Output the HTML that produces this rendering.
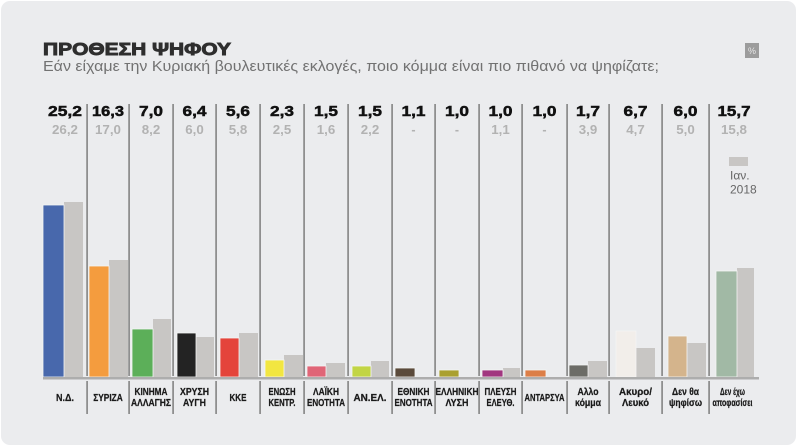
<!DOCTYPE html>
<html><head><meta charset="utf-8"><style>
html,body{margin:0;padding:0;background:#fff;}
svg{display:block;}
text{font-family:"Liberation Sans","DejaVu Sans",sans-serif;}
</style></head><body>
<svg width="800" height="448" viewBox="0 0 800 448" xmlns="http://www.w3.org/2000/svg">
<rect x="0" y="0" width="800" height="448" fill="#ffffff"/>
<rect x="1" y="1" width="795" height="444" rx="9" fill="#ebecee"/>

<text x="43" y="55" font-size="17.8" font-weight="bold" fill="#2e2e2e" stroke="#2e2e2e" stroke-width="0.9" textLength="188" lengthAdjust="spacingAndGlyphs">ΠΡΟΘΕΣΗ ΨΗΦΟΥ</text>
<text x="43" y="71" font-size="14.3" fill="#727272" textLength="616" lengthAdjust="spacingAndGlyphs">Εάν είχαμε την Κυριακή βουλευτικές εκλογές, ποιο κόμμα είναι πιο πιθανό να ψηφίζατε;</text>

<rect x="745" y="43" width="14" height="15" fill="#9c9c9c"/>
<text x="752" y="54" font-size="9" fill="#e6e6e6" text-anchor="middle">%</text>

<!-- dividers -->
<g fill="#8f8f8f">
<rect x="86.2" y="104" width="1.8" height="272"/><rect x="86.2" y="381" width="1.8" height="33"/>
<rect x="128.2" y="104" width="1.8" height="272"/><rect x="128.2" y="381" width="1.8" height="33"/>
<rect x="172.2" y="104" width="1.8" height="272"/><rect x="172.2" y="381" width="1.8" height="33"/>
<rect x="215.2" y="104" width="1.8" height="272"/><rect x="215.2" y="381" width="1.8" height="33"/>
<rect x="259.2" y="104" width="1.8" height="272"/><rect x="259.2" y="381" width="1.8" height="33"/>
<rect x="303.2" y="104" width="1.8" height="272"/><rect x="303.2" y="381" width="1.8" height="33"/>
<rect x="347.2" y="104" width="1.8" height="272"/><rect x="347.2" y="381" width="1.8" height="33"/>
<rect x="391.2" y="104" width="1.8" height="272"/><rect x="391.2" y="381" width="1.8" height="33"/>
<rect x="434.2" y="104" width="1.8" height="272"/><rect x="434.2" y="381" width="1.8" height="33"/>
<rect x="478.2" y="104" width="1.8" height="272"/><rect x="478.2" y="381" width="1.8" height="33"/>
<rect x="521.2" y="104" width="1.8" height="272"/><rect x="521.2" y="381" width="1.8" height="33"/>
<rect x="566.2" y="104" width="1.8" height="272"/><rect x="566.2" y="381" width="1.8" height="33"/>
<rect x="608.2" y="104" width="1.8" height="272"/><rect x="608.2" y="381" width="1.8" height="33"/>
<rect x="661.2" y="104" width="1.8" height="272"/><rect x="661.2" y="381" width="1.8" height="33"/>
<rect x="708.2" y="104" width="1.8" height="272"/><rect x="708.2" y="381" width="1.8" height="33"/>
</g>

<!-- header values -->
<g font-size="15" font-weight="bold" fill="#111" stroke="#111" stroke-width="0.5" text-anchor="middle">
<text x="65" y="116" textLength="34" lengthAdjust="spacingAndGlyphs">25,2</text>
<text x="108" y="116" textLength="32" lengthAdjust="spacingAndGlyphs">16,3</text>
<text x="151" y="116" textLength="24" lengthAdjust="spacingAndGlyphs">7,0</text>
<text x="194.5" y="116" textLength="24" lengthAdjust="spacingAndGlyphs">6,4</text>
<text x="238" y="116" textLength="24" lengthAdjust="spacingAndGlyphs">5,6</text>
<text x="282" y="116" textLength="24" lengthAdjust="spacingAndGlyphs">2,3</text>
<text x="326" y="116" textLength="24" lengthAdjust="spacingAndGlyphs">1,5</text>
<text x="370" y="116" textLength="24" lengthAdjust="spacingAndGlyphs">1,5</text>
<text x="413.5" y="116" textLength="24" lengthAdjust="spacingAndGlyphs">1,1</text>
<text x="457" y="116" textLength="24" lengthAdjust="spacingAndGlyphs">1,0</text>
<text x="500.5" y="116" textLength="24" lengthAdjust="spacingAndGlyphs">1,0</text>
<text x="544.5" y="116" textLength="24" lengthAdjust="spacingAndGlyphs">1,0</text>
<text x="588" y="116" textLength="24" lengthAdjust="spacingAndGlyphs">1,7</text>
<text x="635.5" y="116" textLength="24" lengthAdjust="spacingAndGlyphs">6,7</text>
<text x="685.5" y="116" textLength="24" lengthAdjust="spacingAndGlyphs">6,0</text>
<text x="734" y="116" textLength="33" lengthAdjust="spacingAndGlyphs">15,7</text>
</g>
<g font-size="12.5" font-weight="bold" fill="#b2b2b2" text-anchor="middle">
<text x="65" y="134" textLength="26" lengthAdjust="spacingAndGlyphs">26,2</text>
<text x="108" y="134" textLength="26" lengthAdjust="spacingAndGlyphs">17,0</text>
<text x="151" y="134" textLength="18.5" lengthAdjust="spacingAndGlyphs">8,2</text>
<text x="194.5" y="134" textLength="18.5" lengthAdjust="spacingAndGlyphs">6,0</text>
<text x="238" y="134" textLength="18.5" lengthAdjust="spacingAndGlyphs">5,8</text>
<text x="282" y="134" textLength="18.5" lengthAdjust="spacingAndGlyphs">2,5</text>
<text x="326" y="134" textLength="18.5" lengthAdjust="spacingAndGlyphs">1,6</text>
<text x="370" y="134" textLength="18.5" lengthAdjust="spacingAndGlyphs">2,2</text>
<text x="413.5" y="134">-</text>
<text x="457" y="134">-</text>
<text x="500.5" y="134" textLength="18.5" lengthAdjust="spacingAndGlyphs">1,1</text>
<text x="544.5" y="134">-</text>
<text x="588" y="134" textLength="18.5" lengthAdjust="spacingAndGlyphs">3,9</text>
<text x="635.5" y="134" textLength="18.5" lengthAdjust="spacingAndGlyphs">4,7</text>
<text x="685.5" y="134" textLength="18.5" lengthAdjust="spacingAndGlyphs">5,0</text>
<text x="734" y="134" textLength="26" lengthAdjust="spacingAndGlyphs">15,8</text>
</g>

<!-- gray (Jan 2018) bars -->
<g fill="#c8c6c4">
<rect x="64" y="202" width="19" height="175"/>
<rect x="109" y="260" width="19" height="117"/>
<rect x="153" y="319" width="18" height="58"/>
<rect x="196" y="337" width="18" height="40"/>
<rect x="239" y="333" width="19" height="44"/>
<rect x="284" y="355" width="19" height="22"/>
<rect x="326" y="363" width="19" height="14"/>
<rect x="371" y="361" width="18" height="16"/>
<rect x="503" y="368" width="17" height="9"/>
<rect x="588" y="361" width="19" height="16"/>
<rect x="636" y="348" width="19" height="29"/>
<rect x="687" y="343" width="19" height="34"/>
<rect x="737" y="268" width="17" height="109"/>
</g>

<!-- colored bars -->
<g stroke="#f4f4f4" stroke-width="0.8">
<rect x="43" y="205" width="21" height="172" fill="#4868ac"/>
<rect x="89" y="266" width="20" height="111" fill="#f49c3e"/>
<rect x="132" y="329" width="21" height="48" fill="#5caf59"/>
<rect x="177" y="333" width="19" height="44" fill="#232323"/>
<rect x="220" y="338" width="19" height="39" fill="#e4443b"/>
<rect x="265" y="360" width="19" height="17" fill="#f2e641"/>
<rect x="307" y="366" width="19" height="11" fill="#e06577"/>
<rect x="352" y="366" width="19" height="11" fill="#c2d545"/>
<rect x="395" y="368" width="20" height="9" fill="#5a4a3b"/>
<rect x="439" y="370" width="20" height="7" fill="#aaa030"/>
<rect x="482" y="370" width="21" height="7" fill="#a1367f"/>
<rect x="525" y="370" width="21" height="7" fill="#dc7e47"/>
<rect x="569" y="365" width="19" height="12" fill="#6c6c67"/>
<rect x="616" y="331" width="20" height="46" fill="#f2eeea"/>
<rect x="668" y="336" width="19" height="41" fill="#d4b48c"/>
<rect x="716" y="271" width="21" height="106" fill="#a1b9a5"/>
</g>

<!-- baseline -->
<rect x="43" y="377" width="716" height="2.5" fill="#adadad"/>

<!-- legend -->
<rect x="729" y="157" width="19" height="9" fill="#c8c6c4"/>
<text x="730" y="179.5" font-size="12" fill="#666">Ιαν.</text>
<text x="730" y="193.5" font-size="12" fill="#666">2018</text>

<!-- labels -->
<g font-size="10" font-weight="bold" fill="#1a1a1a" stroke="#1a1a1a" stroke-width="0.25" text-anchor="middle">
<text x="65" y="401" textLength="18" lengthAdjust="spacingAndGlyphs">Ν.Δ.</text>
<text x="108" y="401" textLength="29.5" lengthAdjust="spacingAndGlyphs">ΣΥΡΙΖΑ</text>
<text x="151" y="395" textLength="33" lengthAdjust="spacingAndGlyphs">ΚΙΝΗΜΑ</text>
<text x="151" y="406" textLength="40" lengthAdjust="spacingAndGlyphs">ΑΛΛΑΓΗΣ</text>
<text x="194.5" y="395" textLength="29" lengthAdjust="spacingAndGlyphs">ΧΡΥΣΗ</text>
<text x="194.5" y="406" textLength="23" lengthAdjust="spacingAndGlyphs">ΑΥΓΗ</text>
<text x="238" y="401" textLength="17" lengthAdjust="spacingAndGlyphs">ΚΚΕ</text>
<text x="282" y="395" textLength="27" lengthAdjust="spacingAndGlyphs">ΕΝΩΣΗ</text>
<text x="282" y="406" textLength="27" lengthAdjust="spacingAndGlyphs">ΚΕΝΤΡ.</text>
<text x="326" y="395" textLength="26" lengthAdjust="spacingAndGlyphs">ΛΑΪΚΗ</text>
<text x="326" y="406" textLength="38" lengthAdjust="spacingAndGlyphs">ΕΝΟΤΗΤΑ</text>
<text x="370" y="401" textLength="33" lengthAdjust="spacingAndGlyphs">ΑΝ.ΕΛ.</text>
<text x="413.5" y="395" textLength="32" lengthAdjust="spacingAndGlyphs">ΕΘΝΙΚΗ</text>
<text x="413.5" y="406" textLength="38" lengthAdjust="spacingAndGlyphs">ΕΝΟΤΗΤΑ</text>
<text x="457" y="395" textLength="43" lengthAdjust="spacingAndGlyphs">ΕΛΛΗΝΙΚΗ</text>
<text x="457" y="406" textLength="23" lengthAdjust="spacingAndGlyphs">ΛΥΣΗ</text>
<text x="500.5" y="395" textLength="32" lengthAdjust="spacingAndGlyphs">ΠΛΕΥΣΗ</text>
<text x="500.5" y="406" textLength="28" lengthAdjust="spacingAndGlyphs">ΕΛΕΥΘ.</text>
<text x="544.5" y="401" textLength="40" lengthAdjust="spacingAndGlyphs">ΑΝΤΑΡΣΥΑ</text>
<text x="588" y="395" textLength="21" lengthAdjust="spacingAndGlyphs">Αλλο</text>
<text x="588" y="406" textLength="26" lengthAdjust="spacingAndGlyphs">κόμμα</text>
<text x="635.5" y="395" textLength="33" lengthAdjust="spacingAndGlyphs">Ακυρο/</text>
<text x="635.5" y="406" textLength="27" lengthAdjust="spacingAndGlyphs">Λευκό</text>
<text x="685.5" y="395" textLength="27" lengthAdjust="spacingAndGlyphs">Δεν θα</text>
<text x="685.5" y="406" textLength="33" lengthAdjust="spacingAndGlyphs">ψηφίσω</text>
<text x="732.5" y="395" textLength="25" lengthAdjust="spacingAndGlyphs">Δεν έχω</text>
<text x="732.5" y="406" textLength="40" lengthAdjust="spacingAndGlyphs">αποφασίσει</text>
</g>
</svg>
</body></html>
